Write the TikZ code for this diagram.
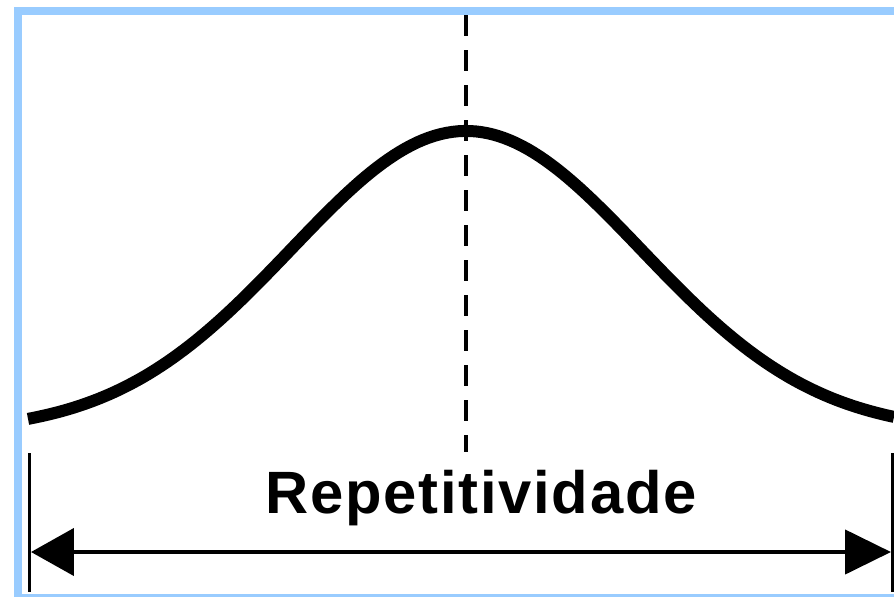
\documentclass[tikz,border=0pt]{standalone}
\usepackage{fontspec}
\setmainfont{Liberation Sans}
\newfontfamily\tagfont{Liberation Sans}[LetterSpace=3]
\usepackage{tikz}
\usetikzlibrary{arrows.meta}
\definecolor{frameblue}{HTML}{99CCFF}

\begin{document}
\begin{tikzpicture}[
  x=1cm, y=-1cm,
  curve/.style={line width=0.12cm, line join=round},
  centerline/.style={line width=0.04cm, dash pattern=on 0.21cm off 0.14cm},
  bar/.style={line width=0.04cm},
  span/.style={line width=0.045cm,
               {Triangle[length=0.43cm,width=0.47cm]}-{Triangle[length=0.46cm,width=0.44cm]}},
  tag/.style={font=\tagfont\bfseries\fontsize{17pt}{17pt}\selectfont,
              anchor=base, inner sep=0pt},
]
\useasboundingbox (0,0) rectangle (8.94,5.97);
\fill[white] (0,0) rectangle (8.94,5.97);
\fill[frameblue] (0.14,0.07) rectangle (8.94,5.97);
\fill[white] (0.22,0.15) rectangle (8.94,5.94);

\coordinate (top)  at (4.66,0.15);
\coordinate (foot) at (4.66,4.52);
\coordinate (lbt)  at (0.295,4.53);
\coordinate (lbb)  at (0.295,5.92);
\coordinate (rbt)  at (8.925,4.53);
\coordinate (rbb)  at (8.925,5.92);
\coordinate (la)   at (0.31,5.52);
\coordinate (ra)   at (8.91,5.52);

\draw[centerline] (top) -- (foot);
\draw[curve] plot[domain=0.28:8.94, samples=150]
  (\x,{4.32-3.01*exp(-((\x-4.66)/1.75)^2/2)});

\draw[bar] (lbt) -- (lbb);
\draw[bar] (rbt) -- (rbb);
\draw[span] (la) -- (ra);

\node[tag] (rep) at (4.81,5.13) {Repetitividade};
\end{tikzpicture}
\end{document}
